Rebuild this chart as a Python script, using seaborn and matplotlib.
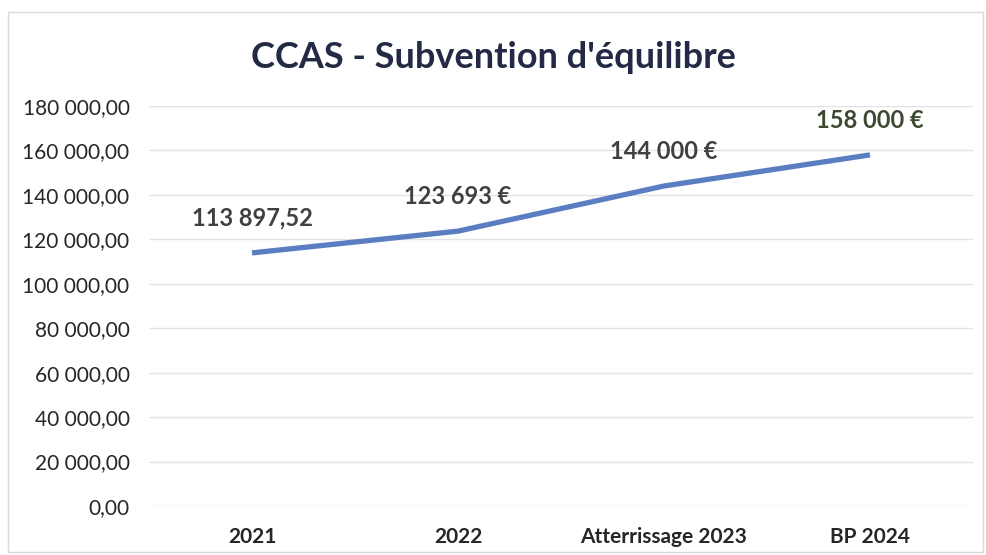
import matplotlib.pyplot as plt
import matplotlib.ticker as mticker
import numpy as np
import pandas as pd
import seaborn as sns
from matplotlib.patches import Rectangle

# donnees
categories = ["2021", "2022", "Atterrissage 2023", "BP 2024"]
values = [113897.52, 123693, 144000, 158000]
point_labels = ["113 897,52", "123 693 €", "144 000 €", "158 000 €"]
label_colors = ["#404040", "#404040", "#404040", "#3d4a30"]
y_ticks = list(range(0, 180001, 20000))


def fr_number(v, _pos=None):
    s = f"{v:,.2f}"
    return s.replace(",", " ").replace(".", ",")


sns.set_theme(style="white")
plt.rcParams["font.family"] = ["Lato", "DejaVu Sans"]

df = pd.DataFrame({"cat": categories, "val": values})
df["x"] = np.arange(len(categories))

fig = plt.figure(figsize=(9.86, 5.55), dpi=100)
ax = fig.add_axes([149 / 986, 1 - 506 / 555, 824 / 986, 400 / 555])

sns.lineplot(data=df, x="x", y="val", ax=ax, color="#5b7ec2", linewidth=3.8,
             solid_capstyle="butt")

ax.set_xlim(-0.5, len(categories) - 0.5)
ax.set_ylim(0, 180000)
ax.set_yticks(y_ticks)
ax.yaxis.set_major_formatter(mticker.FuncFormatter(fr_number))
ax.set_xticks(df["x"])
ax.set_xticklabels(categories, fontweight="bold", fontsize=15, color="#262626")
ax.tick_params(axis="y", labelsize=15, labelcolor="#262626", length=0, pad=14)
ax.tick_params(axis="x", length=0, pad=15)
ax.grid(axis="y", color="#e3e3e3", linewidth=1)
for sp in ax.spines.values():
    sp.set_visible(False)
ax.set_xlabel("")
ax.set_ylabel("")

for x, v, txt, c in zip(df["x"], values, point_labels, label_colors):
    ax.annotate(txt, (x, v), xytext=(0, 25), textcoords="offset points",
                ha="center", va="center", fontsize=17, fontweight="bold", color=c)

fig.text(0.5, 1 - 58 / 555, "CCAS - Subvention d'équilibre", ha="center", va="center",
         fontsize=26, fontweight="bold", color="#232a45")

fig.patches.append(Rectangle((8 / 986, 0.005), 975 / 986, 1 - 12 / 555 - 0.005,
                             transform=fig.transFigure, fill=False,
                             edgecolor="#d9d9d9", linewidth=1))

fig.savefig("out.png", dpi=100, facecolor="white")
